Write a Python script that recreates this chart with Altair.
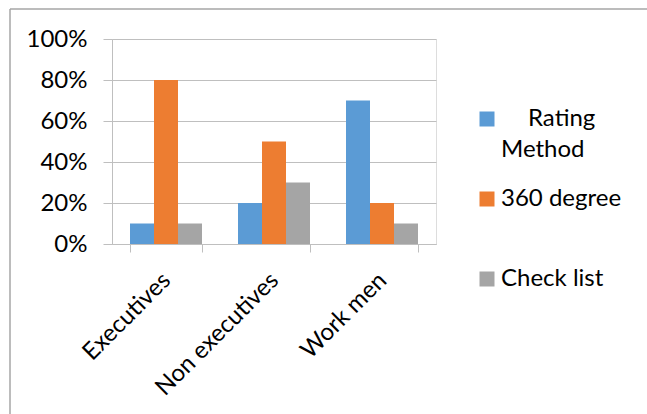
import altair as alt
import pandas as pd

categories = ["Executives", "Non executives", "Work men"]
series = ["Rating Method", "360 degree", "Check list"]
rating_method = [0.10, 0.20, 0.70]
degree_360 = [0.80, 0.50, 0.20]
check_list = [0.10, 0.30, 0.10]
colors = ["#5B9BD5", "#ED7D31", "#A5A5A5"]
y_ticks = [0, 0.2, 0.4, 0.6, 0.8, 1.0]

rows = []
for s, vals in zip(series, [rating_method, degree_360, check_list]):
    for c, v in zip(categories, vals):
        rows.append({"Category": c, "Series": s, "Value": v})
df = pd.DataFrame(rows)

FONT = "Lato"
FS = 24

label_expr = ("datum.label == 'Rating Method' ? ['\u200b\u2003\u2009\u2009\u2009Rating', 'Method'] : "
              "[datum.label, '\u2003']")

bars = alt.Chart(df).mark_bar().encode(
    x=alt.X("Category:N", sort=categories, title=None,
            scale=alt.Scale(paddingInner=1/3, paddingOuter=1/6),
            axis=alt.Axis(labelAngle=-45, tickBand="extent", tickSize=8,
                          domainColor="#BFBFBF", tickColor="#BFBFBF",
                          labelFont=FONT, labelFontSize=FS, labelColor="#000000",
                          labelPadding=16, labelOffset=-8)),
    xOffset=alt.XOffset("Series:N", sort=series),
    y=alt.Y("Value:Q", title=None,
            scale=alt.Scale(domain=[0, 1], nice=False),
            axis=alt.Axis(values=y_ticks, format=".0%", tickSize=9,
                          domainColor="#BFBFBF", tickColor="#BFBFBF",
                          gridColor="#BFBFBF", labelFont=FONT, labelFontSize=FS,
                          labelColor="#000000", labelPadding=16)),
    color=alt.Color("Series:N", sort=series,
                    scale=alt.Scale(domain=series, range=colors),
                    legend=alt.Legend(title=None, orient="none", legendX=363, legendY=68,
                                      symbolType="square", symbolSize=225,
                                      symbolStrokeWidth=0, labelFont=FONT,
                                      labelFontSize=FS, labelColor="#000000",
                                      labelOffset=2, rowPadding=25, labelLimit=300,
                                      labelExpr=label_expr)),
)

border_top = alt.Chart(pd.DataFrame({"d": [0]})).mark_rule(color="#A6A6A6", strokeWidth=1.5).encode(
    x=alt.value(-102), x2=alt.value(540), y=alt.value(-30))
border_left = alt.Chart(pd.DataFrame({"d": [0]})).mark_rule(color="#A6A6A6", strokeWidth=1.5).encode(
    x=alt.value(-102), y=alt.value(-30), y2=alt.value(400))

chart = alt.layer(border_top, border_left, bars).properties(
    width=324, height=205,
    autosize=alt.AutoSizeParams(type="none"),
    padding={"left": 112, "top": 39, "right": 211, "bottom": 170},
).configure_view(stroke=None).configure(
    background="#FFFFFF",
    style={"guide-label": {"lineHeight": 31}},
)

chart.save("out.html", embed_options={"renderer": "svg", "actions": False})
